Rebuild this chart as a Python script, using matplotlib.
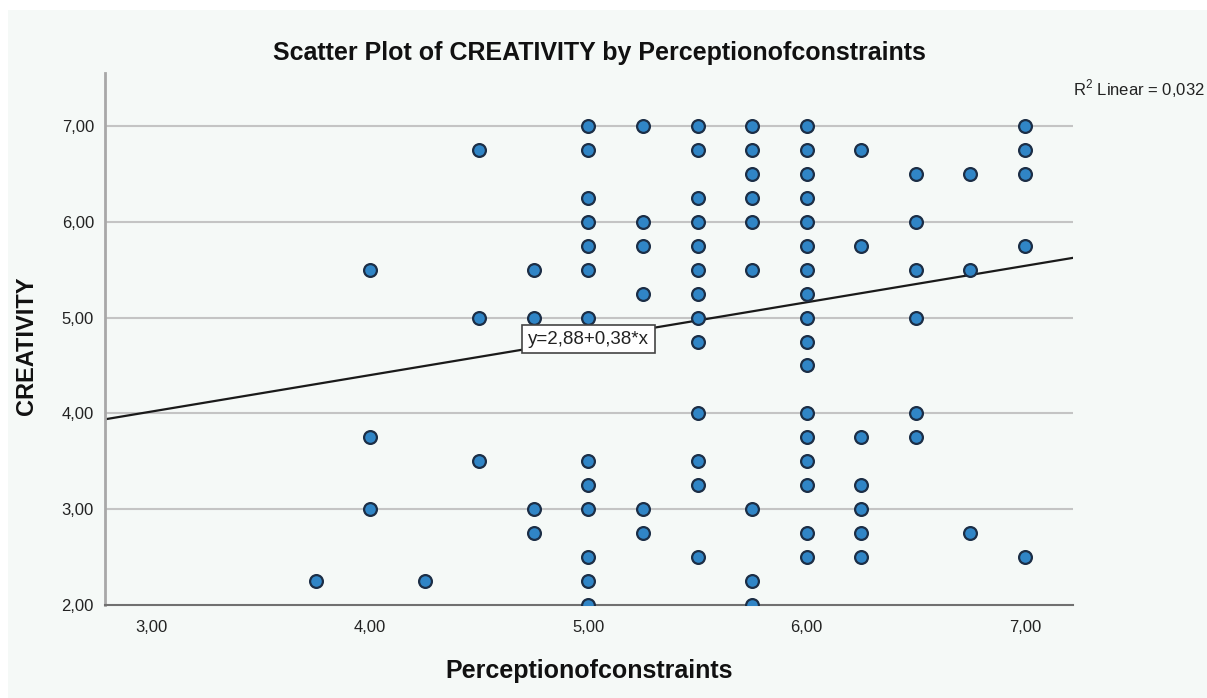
import numpy as np
import matplotlib
matplotlib.use('Agg')
import matplotlib.pyplot as plt
from matplotlib.patches import Rectangle

plt.rcParams['font.family'] = ['Liberation Sans', 'DejaVu Sans']
plt.rcParams['mathtext.fontset'] = 'custom'
plt.rcParams['mathtext.rm'] = 'Liberation Sans'

# creativity scores observed at each perception-of-constraints level
levels = [3.75, 4.00, 4.25, 4.50, 4.75, 5.00, 5.25, 5.50, 5.75, 6.00, 6.25, 6.50, 6.75, 7.00]
cr_375 = [2.25]
cr_400 = [5.5, 3.75, 3.0]
cr_425 = [2.25]
cr_450 = [6.75, 5.0, 3.5]
cr_475 = [5.5, 5.0, 3.0, 2.75]
cr_500 = [7.0, 6.75, 6.25, 6.0, 5.75, 5.5, 5.0, 3.5, 3.25, 3.0, 2.5, 2.25, 2.0]
cr_525 = [7.0, 6.0, 5.75, 5.25, 3.0, 2.75]
cr_550 = [7.0, 6.75, 6.25, 6.0, 5.75, 5.5, 5.25, 5.0, 4.75, 4.0, 3.5, 3.25, 2.5]
cr_575 = [7.0, 6.75, 6.5, 6.25, 6.0, 5.5, 3.0, 2.25, 2.0]
cr_600 = [7.0, 6.75, 6.5, 6.25, 6.0, 5.75, 5.5, 5.25, 5.0, 4.75, 4.5, 4.0,
          3.75, 3.5, 3.25, 2.75, 2.5]
cr_625 = [6.75, 5.75, 3.75, 3.25, 3.0, 2.75, 2.5]
cr_650 = [6.5, 6.0, 5.5, 5.0, 4.0, 3.75]
cr_675 = [6.5, 5.5, 2.75]
cr_700 = [7.0, 6.75, 6.5, 5.75, 2.5]
columns = [cr_375, cr_400, cr_425, cr_450, cr_475, cr_500, cr_525,
           cr_550, cr_575, cr_600, cr_625, cr_650, cr_675, cr_700]

perception = np.concatenate([[lv] * len(c) for lv, c in zip(levels, columns)])
creativity = np.concatenate(columns)

# fit line reported by the stats package
intercept = 2.88
slope = 0.38
r_squared = 0.032

xticks = [3, 4, 5, 6, 7]
yticks = [2, 3, 4, 5, 6, 7]

bg = '#f5f9f7'
fig = plt.figure(figsize=(12.07, 6.98), dpi=100, facecolor='white')
fig.patches.append(Rectangle((8 / 1207, 0), 1, 1 - 10 / 698, transform=fig.transFigure,
                             facecolor=bg, edgecolor='none', zorder=-10))

ax = fig.add_axes([105 / 1207, 1 - 605 / 698, (1073 - 105) / 1207, (605 - 73) / 698])
ax.set_facecolor(bg)
ax.set_xlim(2.785, 7.22)
ax.set_ylim(2.0, 7.553)

for s in ['top', 'right']:
    ax.spines[s].set_visible(False)
ax.spines['left'].set_color('#a8a8a8')
ax.spines['left'].set_linewidth(2)
ax.spines['bottom'].set_color('#707070')
ax.spines['bottom'].set_linewidth(1.5)

ax.set_yticks(yticks)
ax.set_yticklabels([f'{v:.2f}'.replace('.', ',') for v in yticks])
ax.set_xticks(xticks)
ax.set_xticklabels([f'{v:.2f}'.replace('.', ',') for v in xticks])
ax.tick_params(length=0, labelsize=12, colors='#222222')
ax.tick_params(axis='y', pad=8)
ax.tick_params(axis='x', pad=11)

for v in yticks[1:]:
    ax.axhline(v, color='#c4c4c4', lw=1.5, zorder=1)

ax.scatter(perception, creativity, s=85, color='#3085c6', edgecolor='#1c2e46',
           linewidth=1.6, zorder=3)

xs = np.array(ax.get_xlim())
ax.plot(xs, intercept + slope * xs, color='#1a1a1a', lw=1.6, zorder=2)

ax.text(5.0, 4.775, 'y=2,88+0,38*x', ha='center', va='center', fontsize=13.5,
        color='#222222', zorder=4,
        bbox=dict(boxstyle='square,pad=0.3', facecolor='white', edgecolor='#444444', lw=1.2))

fig.text(599 / 1207, 1 - 53 / 698, 'Scatter Plot of CREATIVITY by Perceptionofconstraints',
         ha='center', va='center', fontsize=18, fontweight='bold', color='#111111')
fig.text(589 / 1207, 1 - 671 / 698, 'Perceptionofconstraints', ha='center', va='center',
         fontsize=18, fontweight='bold', color='#111111')
fig.text(27 / 1207, 1 - 346 / 698, 'CREATIVITY', ha='center', va='center', rotation=90,
         fontsize=17, fontweight='bold', color='#111111')
fig.text(1073 / 1207, 1 - 89 / 698, r'R$^{\mathrm{2}}$ Linear = ' + f'{r_squared:.3f}'.replace('.', ','),
         ha='left', va='center', fontsize=12, color='#222222')

fig.savefig('out.png', dpi=100, facecolor='white')
